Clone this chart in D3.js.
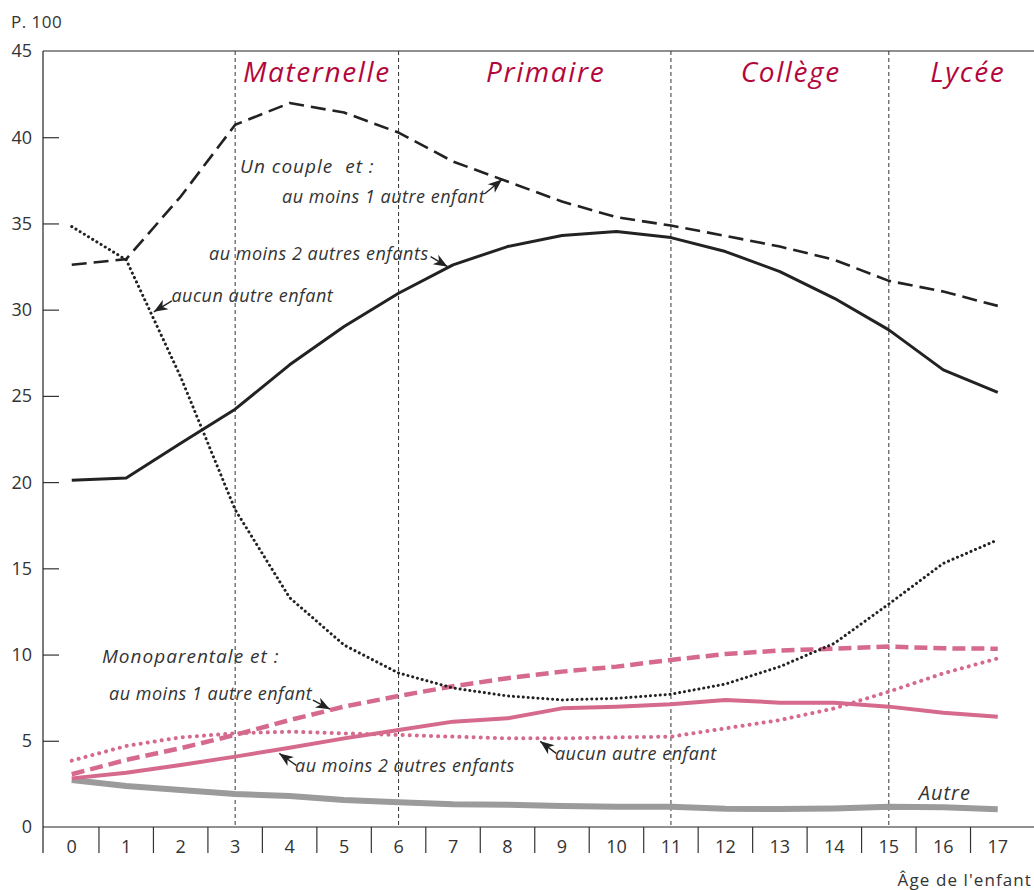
<!DOCTYPE html>
<html>
<head>
<meta charset="utf-8">
<script src="https://cdn.jsdelivr.net/npm/d3@7"></script>
<style>
  body { margin: 0; background: #fff; }
  svg { display: block; font-family: 'Open Sans', 'Noto Sans', sans-serif; }
</style>
</head>
<body>
<div id="chart"></div>
<script>
// age of the child (categories)
const ages = [0, 1, 2, 3, 4, 5, 6, 7, 8, 9, 10, 11, 12, 13, 14, 15, 16, 17]
const yTicks = [0, 5, 10, 15, 20, 25, 30, 35, 40, 45]

// school stages and the ages where they start
const stageNames = ['Maternelle', 'Primaire', 'Collège', 'Lycée']
const stageStarts = [3, 6, 11, 15]

// Un couple et :
const coupleAuMoins1 = [32.6, 32.93, 36.56, 40.72, 41.98, 41.43, 40.27, 38.59, 37.43, 36.27, 35.36, 34.88, 34.28, 33.66, 32.89, 31.67, 31.05, 30.22]
const coupleAuMoins2 = [20.11, 20.24, 22.25, 24.23, 26.8, 29.02, 30.95, 32.6, 33.66, 34.3, 34.53, 34.18, 33.37, 32.21, 30.66, 28.83, 26.51, 25.21]
const coupleAucun = [34.82, 32.89, 26.1, 18.4, 13.3, 10.55, 8.93, 8.06, 7.6, 7.37, 7.46, 7.7, 8.29, 9.3, 10.65, 12.93, 15.29, 16.65]

// Monoparentale et :
const monoAuMoins1 = [3.06, 3.89, 4.57, 5.34, 6.2, 6.98, 7.6, 8.16, 8.63, 9.01, 9.3, 9.69, 10.03, 10.23, 10.34, 10.46, 10.36, 10.34]
const monoAuMoins2 = [2.82, 3.15, 3.6, 4.08, 4.6, 5.14, 5.63, 6.11, 6.3, 6.88, 6.98, 7.12, 7.37, 7.21, 7.21, 6.98, 6.63, 6.4]
const monoAucun = [3.85, 4.7, 5.2, 5.43, 5.53, 5.43, 5.34, 5.24, 5.14, 5.14, 5.2, 5.24, 5.72, 6.2, 6.88, 7.85, 8.91, 9.78]

// Autre
const autre = [2.73, 2.38, 2.15, 1.91, 1.8, 1.57, 1.43, 1.32, 1.29, 1.22, 1.18, 1.18, 1.06, 1.04, 1.08, 1.18, 1.14, 1.03]

let width = 1034
let height = 890
let plotLeft = 43
let plotTop = 51
let plotBottom = 827

let pink = '#d56a8c'
let ink = '#222'
let textColor = '#333'
let red = '#b3073c'

/* Scales */
let xBand = d3.scaleBand().domain(ages).range([44.5, 1025]).paddingInner(0).paddingOuter(0)
let xAge = a => xBand(0) + xBand.bandwidth() / 2 + a * xBand.step()
let y = d3.scaleLinear().domain([0, 45]).range([plotBottom, plotTop])

let svg = d3.select('#chart').append('svg')
  .attr('width', width)
  .attr('height', height)

/* Frame and axes */
svg.append('line')
  .attr('x1', plotLeft).attr('x2', width).attr('y1', plotTop).attr('y2', plotTop)
  .attr('stroke', ink).attr('stroke-width', 1.2)

let yAxis = d3.axisRight(y).tickValues(yTicks.slice(1, -1)).tickSize(16).tickFormat('')
svg.append('g')
  .attr('transform', `translate(${plotLeft},0)`)
  .call(yAxis)
  .call(g => g.select('.domain').remove())
  .call(g => g.selectAll('line').attr('stroke', textColor).attr('stroke-width', 1.2))

svg.append('line')
  .attr('x1', plotLeft).attr('x2', plotLeft).attr('y1', plotTop).attr('y2', 853)
  .attr('stroke', ink).attr('stroke-width', 1.2)

svg.append('g')
  .selectAll('text')
  .data(yTicks)
  .enter()
  .append('text')
  .attr('x', 32)
  .attr('y', d => y(d))
  .attr('dy', '0.36em')
  .attr('text-anchor', 'end')
  .attr('font-size', 18)
  .attr('fill', textColor)
  .text(d => d)

svg.append('text')
  .attr('x', 11).attr('y', 28)
  .attr('font-size', 17)
  .attr('letter-spacing', 0.5)
  .attr('fill', textColor)
  .text('P. 100')

// x axis: ticks between the age bands, labels in the middle
svg.append('line')
  .attr('x1', plotLeft).attr('x2', width).attr('y1', plotBottom).attr('y2', plotBottom)
  .attr('stroke', ink).attr('stroke-width', 1.2)

svg.append('g')
  .selectAll('line')
  .data(ages.slice(1))
  .enter()
  .append('line')
  .attr('x1', d => xBand(d)).attr('x2', d => xBand(d))
  .attr('y1', plotBottom).attr('y2', 853)
  .attr('stroke', textColor).attr('stroke-width', 1.2)

svg.append('g')
  .selectAll('text')
  .data(ages)
  .enter()
  .append('text')
  .attr('x', d => xAge(d))
  .attr('y', 853)
  .attr('text-anchor', 'middle')
  .attr('font-size', 18)
  .attr('fill', textColor)
  .text(d => d)

svg.append('text')
  .attr('x', 1032).attr('y', 886)
  .attr('text-anchor', 'end')
  .attr('font-size', 17)
  .attr('letter-spacing', 1.1)
  .attr('fill', textColor)
  .text("Âge de l'enfant")

/* School stages */
svg.append('g')
  .selectAll('line')
  .data(stageStarts)
  .enter()
  .append('line')
  .attr('x1', d => xAge(d)).attr('x2', d => xAge(d))
  .attr('y1', plotTop).attr('y2', plotBottom)
  .attr('stroke', textColor)
  .attr('stroke-width', 1)
  .attr('stroke-dasharray', '4,3')

let stageLabelAt = [4.5, 8.7, 13.2, 16.45]
svg.append('g')
  .selectAll('text')
  .data(stageNames)
  .enter()
  .append('text')
  .attr('x', (d, i) => xAge(stageLabelAt[i]))
  .attr('y', 82)
  .attr('text-anchor', 'middle')
  .attr('font-size', 28)
  .attr('letter-spacing', 1.6)
  .attr('font-style', 'italic')
  .attr('fill', red)
  .text(d => d)

/* Lines */
let series = [
  { key: 'autre', values: autre, color: '#9b9b9b', width: 6, dash: null, cap: 'butt' },
  { key: 'monoAucun', values: monoAucun, color: pink, width: 4, dash: '0.1,7', cap: 'round' },
  { key: 'monoAuMoins2', values: monoAuMoins2, color: pink, width: 4, dash: null, cap: 'butt' },
  { key: 'monoAuMoins1', values: monoAuMoins1, color: pink, width: 4.5, dash: '13,6', cap: 'butt' },
  { key: 'coupleAucun', values: coupleAucun, color: ink, width: 3, dash: '0.1,4.8', cap: 'round' },
  { key: 'coupleAuMoins2', values: coupleAuMoins2, color: ink, width: 3, dash: null, cap: 'butt' },
  { key: 'coupleAuMoins1', values: coupleAuMoins1, color: ink, width: 2.6, dash: '15,7', cap: 'butt' }
]

let line = d3.line()
  .x((d, i) => xAge(ages[i]))
  .y(d => y(d))

svg.append('g')
  .selectAll('path')
  .data(series)
  .enter()
  .append('path')
  .attr('d', d => line(d.values))
  .attr('fill', 'none')
  .attr('stroke', d => d.color)
  .attr('stroke-width', d => d.width)
  .attr('stroke-dasharray', d => d.dash)
  .attr('stroke-linecap', d => d.cap)
  .attr('stroke-linejoin', 'round')

/* Annotations */
let labels = [
  { text: 'Un couple  et :', age: 3.09, val: 37.93, size: 19, ls: 1 },
  { text: 'au moins 1 autre enfant', age: 3.86, val: 36.19, size: 18, ls: 0.5 },
  { text: 'au moins 2 autres enfants', age: 2.52, val: 32.88, size: 18, ls: 0.5 },
  { text: 'aucun autre enfant', age: 1.83, val: 30.46, size: 18, ls: 0.5 },
  { text: 'Monoparentale et :', age: 0.555, val: 9.53, size: 19, ls: 1 },
  { text: 'au moins 1 autre enfant', age: 0.685, val: 7.36, size: 18, ls: 0.5 },
  { text: 'au moins 2 autres enfants', age: 4.1, val: 3.21, size: 18, ls: 0.5 },
  { text: 'aucun autre enfant', age: 8.87, val: 3.885, size: 18, ls: 0.5 },
  { text: 'Autre', age: 15.55, val: 1.57, size: 20, ls: 1 }
]

svg.append('g')
  .selectAll('text')
  .data(labels)
  .enter()
  .append('text')
  .attr('x', d => xAge(d.age))
  .attr('y', d => y(d.val))
  .attr('font-size', d => d.size)
  .attr('letter-spacing', d => d.ls)
  .attr('font-style', 'italic')
  .attr('fill', textColor)
  .style('white-space', 'pre')
  .text(d => d.text)

// value of a series at a fractional age
function valueAt(values, a) {
  let i = Math.min(Math.floor(a), values.length - 2)
  let t = a - i
  return values[i] + (values[i + 1] - values[i]) * t
}

let arrows = [
  { values: coupleAuMoins1, age: 7.9, dx: 0, dy: 0, tx: -17, ty: 14 },
  { values: coupleAuMoins2, age: 6.9, dx: 0, dy: -1, tx: -17, ty: -10 },
  { values: coupleAucun, age: 1.47, dx: 2, dy: -3, tx: 18, ty: -11 },
  { values: monoAuMoins1, age: 4.74, dx: 0, dy: -1, tx: -17, ty: -9 },
  { values: monoAuMoins2, age: 3.81, dx: 0, dy: 4, tx: 17, ty: 12 },
  { values: monoAucun, age: 8.6, dx: 0, dy: 3, tx: 16, ty: 12 }
]

let arrowG = svg.append('g')
arrows.forEach(function(a) {
  let tipX = xAge(a.age) + a.dx
  let tipY = y(valueAt(a.values, a.age)) + a.dy
  let tailX = tipX + a.tx
  let tailY = tipY + a.ty
  let angle = Math.atan2(tipY - tailY, tipX - tailX) * 180 / Math.PI
  arrowG.append('line')
    .attr('x1', tailX).attr('y1', tailY)
    .attr('x2', tipX).attr('y2', tipY)
    .attr('stroke', ink).attr('stroke-width', 1.3)
  arrowG.append('path')
    .attr('d', 'M0,0 L-14,-5.5 L-10,0 L-14,5.5 Z')
    .attr('transform', `translate(${tipX},${tipY}) rotate(${angle})`)
    .attr('fill', ink)
})
</script>
</body>
</html>
